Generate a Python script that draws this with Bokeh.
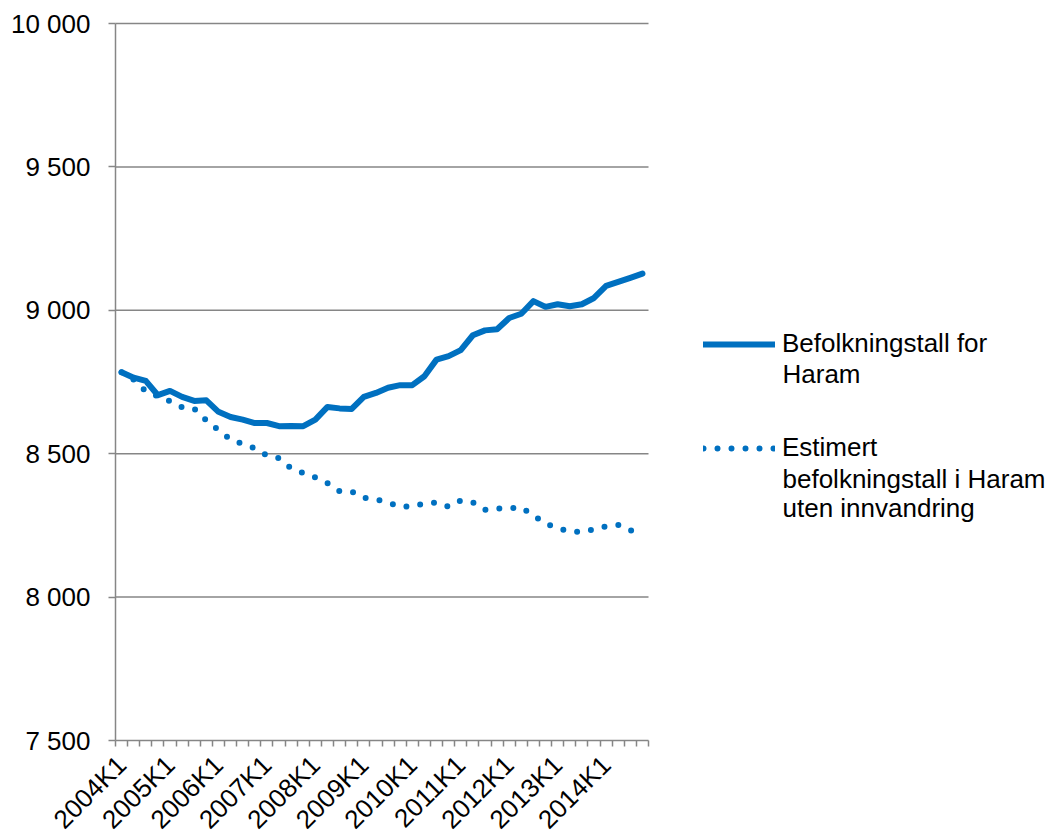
import math
from bokeh.plotting import figure
from bokeh.models import Range1d, FixedTicker, Legend, LegendItem, Label, ColumnDataSource
from bokeh.embed import file_html
from bokeh.resources import INLINE

quarters = [
    "2004K1", "2004K2", "2004K3", "2004K4", "2005K1", "2005K2", "2005K3", "2005K4",
    "2006K1", "2006K2", "2006K3", "2006K4", "2007K1", "2007K2", "2007K3", "2007K4",
    "2008K1", "2008K2", "2008K3", "2008K4", "2009K1", "2009K2", "2009K3", "2009K4",
    "2010K1", "2010K2", "2010K3", "2010K4", "2011K1", "2011K2", "2011K3", "2011K4",
    "2012K1", "2012K2", "2012K3", "2012K4", "2013K1", "2013K2", "2013K3", "2013K4",
    "2014K1", "2014K2", "2014K3", "2014K4",
]
befolkning = [8784, 8765, 8754, 8704, 8719, 8698, 8684, 8686, 8646, 8628,
              8619, 8607, 8607, 8596, 8597, 8596, 8619, 8663, 8658, 8656,
              8698, 8712, 8730, 8739, 8739, 8770, 8828, 8840, 8861, 8913,
              8930, 8934, 8973, 8988, 9032, 9012, 9021, 9014, 9021, 9043,
              9085, 9099, 9113, 9128]
estimert = [8784, 8758, 8718, 8700, 8683, 8662, 8657, 8616, 8582, 8550,
            8534, 8519, 8494, 8484, 8449, 8433, 8417, 8397, 8369, 8368,
            8346, 8341, 8330, 8315, 8316, 8327, 8330, 8315, 8337, 8330,
            8304, 8309, 8310, 8313, 8285, 8257, 8240, 8229, 8227, 8236,
            8247, 8252, 8233, 8215]
x_tick_labels = ["2004K1", "2005K1", "2006K1", "2007K1", "2008K1", "2009K1",
                 "2010K1", "2011K1", "2012K1", "2013K1", "2014K1"]
y_ticks = [7500, 8000, 8500, 9000, 9500, 10000]
y_tick_labels = ["7 500", "8 000", "8 500", "9 000", "9 500", "10 000"]
legend_first_lines = ["Befolkningstall for", "Estimert"]
legend_more_lines = ["Haram", "befolkningstall i Haram", "uten innvandring"]

FONT = "Liberation Sans"
FS = "26px"
BLUE = "#0070C0"
GREY = "#868686"

# layout (pixels); the frame covers the whole canvas, axes are pinned inside it
W, H = 1051, 838
AXIS_X, AXIS_Y = 115, 740         # pixel column / row of the two axes
TOP_Y = 23                        # pixel row of the 10 000 line
PLOT_W = 533                      # width used by the 44 quarters
n = len(quarters)
x_lo, x_hi = -0.5, n - 0.5
xppu = PLOT_W / (x_hi - x_lo)
yppu = (AXIS_Y - TOP_Y) / (y_ticks[-1] - y_ticks[0])
x_range = Range1d(x_lo - AXIS_X / xppu, x_lo + (W - AXIS_X) / xppu)
y_range = Range1d(y_ticks[0] - (H - AXIS_Y) / yppu, y_ticks[0] + AXIS_Y / yppu)

idx = list(range(n))
src = ColumnDataSource(dict(x=idx, a=befolkning, e=estimert, q=quarters))

p = figure(width=W, height=H, output_backend="svg", toolbar_location=None,
           x_range=x_range, y_range=y_range,
           min_border_left=0, min_border_right=0, min_border_top=0, min_border_bottom=0)
p.outline_line_color = None
p.background_fill_color = "white"
p.border_fill_color = "white"

# horizontal gridlines limited to the data area
gy = y_ticks[1:]
p.segment(x0=[x_lo] * len(gy), x1=[x_hi] * len(gy), y0=gy, y1=gy,
          line_color=GREY, line_width=1.5)

r1 = p.line("x", "a", source=src, line_color=BLUE, line_width=6, line_join="round", line_cap="round")
r2 = p.line("x", "e", source=src, line_color=BLUE, line_width=6, line_dash="0 14",
            line_cap="round", line_join="round")

# x axis, pinned at 7 500
xt = [quarters.index(l) for l in x_tick_labels]
p.xaxis.fixed_location = y_ticks[0]
p.xaxis.bounds = (x_lo, x_hi)
p.xaxis.ticker = FixedTicker(ticks=xt, minor_ticks=[i - 0.5 for i in range(n + 1)])
p.xaxis.major_label_overrides = {t: l for t, l in zip(xt, x_tick_labels)}
p.xaxis.major_label_orientation = math.pi / 4
p.xaxis.major_tick_out = 0
p.xaxis.major_tick_in = 0
p.xaxis.minor_tick_out = 6
p.xaxis.minor_tick_in = 0
p.xaxis.minor_tick_line_color = GREY
p.xaxis.minor_tick_line_width = 1.5
p.xaxis.axis_line_color = GREY
p.xaxis.axis_line_width = 1.5
p.xaxis.major_label_text_font = FONT
p.xaxis.major_label_text_font_size = FS
p.xaxis.major_label_text_color = "black"
p.xaxis.major_label_standoff = 14

# y axis, pinned at the left edge of the quarters
p.yaxis.fixed_location = x_lo
p.yaxis.bounds = (y_ticks[0], y_ticks[-1])
p.yaxis.ticker = FixedTicker(ticks=y_ticks)
p.yaxis.major_label_overrides = {t: l for t, l in zip(y_ticks, y_tick_labels)}
p.yaxis.major_tick_out = 7
p.yaxis.major_tick_in = 0
p.yaxis.major_tick_line_color = GREY
p.yaxis.major_tick_line_width = 1.5
p.yaxis.minor_tick_line_color = None
p.yaxis.axis_line_color = GREY
p.yaxis.axis_line_width = 1.5
p.yaxis.major_label_text_font = FONT
p.yaxis.major_label_text_font_size = FS
p.yaxis.major_label_text_color = "black"
p.yaxis.major_label_standoff = 18

p.xgrid.visible = False
p.ygrid.visible = False

# legend (screen pixels from the frame's bottom-left = canvas bottom-left)
legend = Legend(items=[LegendItem(label=legend_first_lines[0], renderers=[r1]),
                       LegendItem(label=legend_first_lines[1], renderers=[r2])],
                location=(703, H - 463), orientation="vertical")
legend.border_line_color = None
legend.background_fill_alpha = 0
legend.padding = 0
legend.margin = 0
legend.spacing = 73
legend.glyph_width = 72
legend.glyph_height = 30
legend.label_height = 30
legend.label_standoff = 7
legend.label_text_font = FONT
legend.label_text_font_size = FS
legend.label_text_color = "black"
p.add_layout(legend)

for txt, base_y in zip(legend_more_lines, [381, 486, 515]):
    p.add_layout(Label(x=782, y=H - base_y + 8, x_units="screen", y_units="screen",
                       text=txt, text_font=FONT, text_font_size=FS, text_color="black",
                       text_baseline="alphabetic", text_align="left"))

open("out.html", "w").write(file_html(p, INLINE))
